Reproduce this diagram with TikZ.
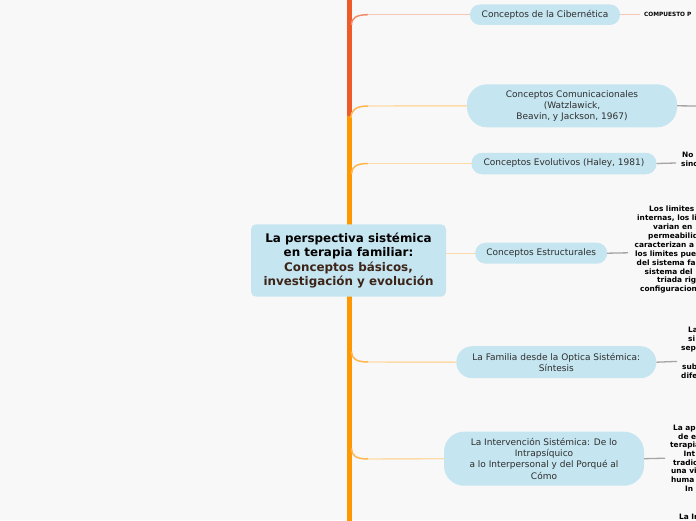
\documentclass[tikz,border=0pt]{standalone}
\usepackage{fontspec}
\setmainfont{DejaVu Sans}
\definecolor{bg}{HTML}{F8F8F8}
\definecolor{nodefill}{HTML}{C5E5F0}
\definecolor{nodetext}{HTML}{2E2E2E}
\definecolor{rootbrown}{HTML}{3D2418}
\definecolor{trunkred}{HTML}{EF5A29}
\definecolor{trunkorange}{HTML}{FF9800}
\definecolor{salmonpale}{HTML}{F7C7B6}
\definecolor{salmonmid}{HTML}{F28D6E}
\definecolor{orangepale}{HTML}{FDDBA8}
\definecolor{orangemid}{HTML}{FFB74D}
\definecolor{greyline}{HTML}{A5A5A5}
\begin{document}
\begin{tikzpicture}[x=1pt,y=-1pt,
  bnode/.style={fill=nodefill, text=nodetext, font=\fontsize{9}{11.2}\selectfont, align=center, inner sep=0pt, outer sep=0pt},
  rtext/.style={font=\bfseries\fontsize{7.4}{8.9}\selectfont, inner sep=0pt, anchor=base west, text=black},
  trunkline/.style={line width=5pt},
  salm/.style={draw=salmonpale, line width=1.4pt},
  salmcurve/.style={draw=salmonmid, line width=1.5pt},
  pale/.style={draw=orangepale, line width=1.4pt},
  palecurve/.style={draw=orangemid, line width=1.5pt},
  greyc/.style={draw=greyline, line width=1.3pt}]
\path[use as bounding box, fill=bg] (0,0) rectangle (696,520);
\clip (0,0) rectangle (696,520);

% trunk
\coordinate (tTop) at (349,-5);
\coordinate (tRedEnd) at (349,121);
\coordinate (tOrTop) at (349,116);
\coordinate (tBot) at (349,525);
\draw[trunkline, draw=trunkred] (tTop) -- (tRedEnd);
\draw[trunkline, draw=trunkorange] (tBot) -- (tOrTop);

% branch nodes
\node[bnode, minimum width=150pt, minimum height=20.5pt, rounded corners=10pt] (cib) at (545,14.7) {Conceptos de la Cibernética};
\node[bnode, minimum width=210pt, minimum height=43pt, rounded corners=20pt] (com) at (572,105.8) {Conceptos Comunicacionales\\(Watzlawick,\\Beavin, y Jackson, 1967)};
\node[bnode, minimum width=185pt, minimum height=21.5pt, rounded corners=10.5pt] (evo) at (564,163.5) {Conceptos Evolutivos (Haley, 1981)};
\node[bnode, minimum width=132pt, minimum height=21pt, rounded corners=10.4pt] (est) at (541.2,253.2) {Conceptos Estructurales};
\node[bnode, minimum width=200pt, minimum height=32pt, rounded corners=15.9pt] (fam) at (556.3,362.2) {La Familia desde la Optica Sistémica:\\Síntesis};
\node[bnode, minimum width=200pt, minimum height=54pt, rounded corners=20pt] (int) at (544,458.7) {La Intervención Sistémica: De lo\\Intrapsíquico\\a lo Interpersonal y del Porqué al\\Cómo};

% connectors from trunk
\draw[salmcurve] (351.5,25) .. controls (351.5,18) and (356,14.7) .. (368,14.7) coordinate (hCib);
\draw[salm] (hCib) -- (cib.west);
\draw[palecurve] (351,118) .. controls (351,110) and (356,106) .. (368,106) coordinate (hCom);
\draw[pale] (hCom) -- (com.west);
\draw[palecurve] (351.5,174) .. controls (351.5,167) and (356,163.5) .. (368,163.5) coordinate (hEvo);
\draw[pale] (hEvo) -- (evo.west);
\draw[palecurve] (351.5,351.5) .. controls (351.5,358.5) and (356,362) .. (368,362) coordinate (hFam);
\draw[pale] (hFam) -- (fam.west);
\draw[palecurve] (351.5,448.5) .. controls (351.5,455.5) and (356,459) .. (368,459) coordinate (hInt);
\draw[pale] (hInt) -- (int.west);

% root
\node[fill=nodefill, rounded corners=5pt, minimum width=195pt, minimum height=72.4pt, inner sep=0pt, align=center, font=\bfseries\fontsize{11.9}{14.2}\selectfont] (root) at (348.5,260.5) {La perspectiva sistémica\\en terapia familiar:\\\textcolor{rootbrown}{Conceptos básicos,}\\\textcolor{rootbrown}{investigación y evolución}};
\draw[pale] (root.east |- est.west) -- (est.west);

% right connectors
\coordinate (rCib) at (640,14.7);
\coordinate (rCom) at (698,106);
\coordinate (rEvo) at (676,163);
\coordinate (rEst) at (628,252.8);
\coordinate (rFam) at (677,361.4);
\coordinate (rInt) at (665,458.2);
\draw[salm] (cib.east) -- (rCib);
\draw[greyc] (com.east) -- (rCom);
\draw[greyc] (evo.east) -- (rEvo);
\draw[greyc] (est.east) -- (rEst);
\draw[greyc] (fam.east) -- (rFam);
\draw[greyc] (int.east) -- (rInt);

% right texts (clipped by the border, as in the reference)
\node[rtext, font=\bfseries\fontsize{5.8}{7}\selectfont] (tcib) at (644,16.8) {COMPUESTO P};
\node[rtext] (tevo1) at (682,157) {No};
\node[rtext] (tevo2) at (681,166.3) {sinc};
\foreach \t/\x/\y [count=\i] in {Los limites/649/209, {internas, los li}/637/218, varian en/653/227, permeabilid/648/236, caracterizan a/634.5/245, los limites pue/635/254, del sistema fa/636.5/262.8, sistema del/644.5/271.7, triada rig/657/280.4, configuracion/640/289.3}
  {\node[rtext] (test\i) at (\x,\y+2.3) {\t};}
\foreach \t/\x/\y [count=\i] in {La/688/330, si/688/339, sep/681/348.3, sub/682/366.7, dife/681/375.7}
  {\node[rtext] (tfam\i) at (\x,\y+2.3) {\t};}
\foreach \t/\x/\y [count=\i] in {La ap/673/428, de e/678/436.7, terapia/670/445.4, Int/683.5/454.1, tradic/673/462.8, una vi/671/471.5, huma/671/480.2, In/685/488.9, La In/679/516.8}
  {\node[rtext] (tint\i) at (\x,\y+2.3) {\t};}
\end{tikzpicture}
\end{document}
